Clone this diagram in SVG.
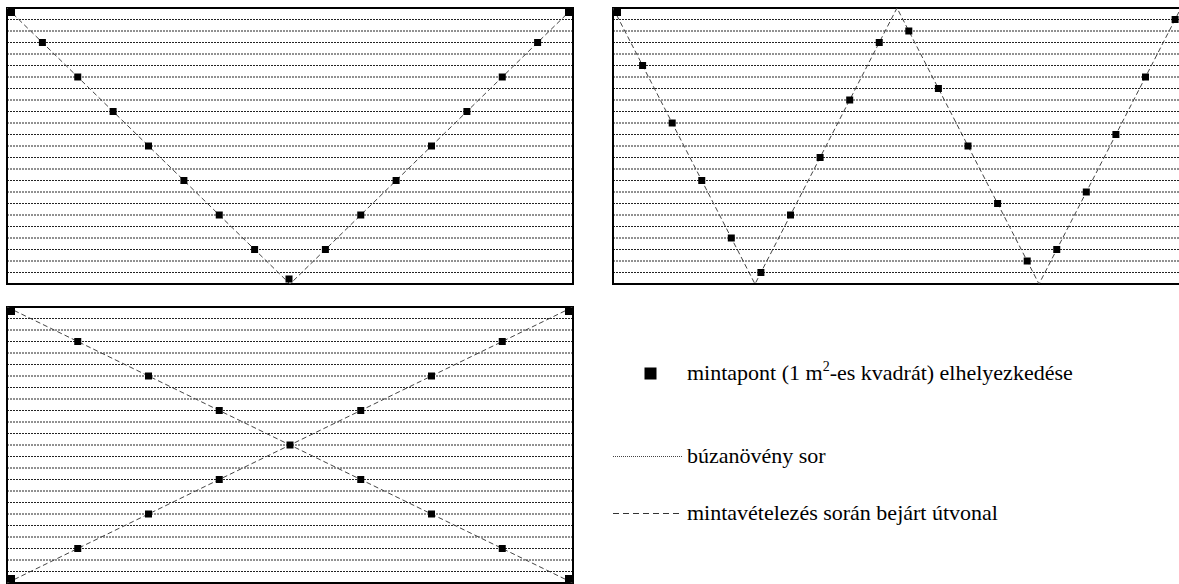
<svg xmlns="http://www.w3.org/2000/svg" width="1179" height="584" viewBox="0 0 1179 584">
<defs>
<style>
.frame{fill:none;stroke:#000;stroke-width:2}
.row{stroke:#222;stroke-width:1;stroke-dasharray:2 1;fill:none}
.route{stroke:#444;stroke-width:1;stroke-dasharray:5 3;fill:none}
.pt{fill:#000}
.lbl{font-family:"Liberation Serif","Times New Roman",serif;font-size:22px;fill:#000}
</style>
<pattern id="rows1" x="0" y="8" width="10" height="11.5" patternUnits="userSpaceOnUse"><line x1="0" y1="0.5" x2="10" y2="0.5"/></pattern>
</defs>
<g id="panel1">
<g class="row">
<path d="M7,19.5H573M7,31H573M7,42.5H573M7,54H573M7,65.5H573M7,77H573M7,88.5H573M7,100H573M7,111.5H573M7,123H573M7,134.5H573M7,146H573M7,157.5H573M7,169H573M7,180.5H573M7,192H573M7,203.5H573M7,215H573M7,226.5H573M7,238H573M7,249.5H573M7,261H573M7,272.5H573"/>
</g>
<rect class="frame" x="7" y="8" width="566" height="276"/>
</g>
<g id="panel2">
<g class="row">
<path d="M613,19.5H1181M613,31H1181M613,42.5H1181M613,54H1181M613,65.5H1181M613,77H1181M613,88.5H1181M613,100H1181M613,111.5H1181M613,123H1181M613,134.5H1181M613,146H1181M613,157.5H1181M613,169H1181M613,180.5H1181M613,192H1181M613,203.5H1181M613,215H1181M613,226.5H1181M613,238H1181M613,249.5H1181M613,261H1181M613,272.5H1181"/>
</g>
<rect class="frame" x="613" y="8" width="568" height="276"/>
</g>
<g id="panel3">
<g class="row">
<path d="M7,318.5H573M7,330H573M7,341.5H573M7,353H573M7,364.5H573M7,376H573M7,387.5H573M7,399H573M7,410.5H573M7,422H573M7,433.5H573M7,445H573M7,456.5H573M7,468H573M7,479.5H573M7,491H573M7,502.5H573M7,514H573M7,525.5H573M7,537H573M7,548.5H573M7,560H573M7,571.5H573"/>
</g>
<rect class="frame" x="7" y="307" width="566" height="276"/>
</g>
<g id="connectors">
<path class="route" d="M7,8L290,284L573,8"/>
<path class="route" d="M613,8L755,284L897,8L1039,284L1181,8"/>
<path class="route" d="M7,307L573,583M7,583L573,307"/>
</g>
<g id="points1" class="pt">
<rect x="8" y="9" width="7" height="7"/>
<rect x="38.9" y="39" width="7" height="7"/>
<rect x="74.25" y="73.5" width="7" height="7"/>
<rect x="109.6" y="108" width="7" height="7"/>
<rect x="145" y="142.5" width="7" height="7"/>
<rect x="180.4" y="177" width="7" height="7"/>
<rect x="215.75" y="211.5" width="7" height="7"/>
<rect x="251.1" y="246" width="7" height="7"/>
<rect x="285.5" y="275.5" width="7" height="7"/>
<rect x="321.9" y="246" width="7" height="7"/>
<rect x="357.25" y="211.5" width="7" height="7"/>
<rect x="392.6" y="177" width="7" height="7"/>
<rect x="428" y="142.5" width="7" height="7"/>
<rect x="463.4" y="108" width="7" height="7"/>
<rect x="498.75" y="73.5" width="7" height="7"/>
<rect x="534.1" y="39" width="7" height="7"/>
<rect x="565" y="9" width="7" height="7"/>
</g>
<g id="points2" class="pt">
<rect x="614" y="9" width="7" height="7"/>
<rect x="639.1" y="62" width="7" height="7"/>
<rect x="668.7" y="119.5" width="7" height="7"/>
<rect x="698.25" y="177" width="7" height="7"/>
<rect x="727.8" y="234.5" width="7" height="7"/>
<rect x="757.4" y="269" width="7" height="7"/>
<rect x="787" y="211.5" width="7" height="7"/>
<rect x="816.6" y="154" width="7" height="7"/>
<rect x="846.2" y="96.5" width="7" height="7"/>
<rect x="875.75" y="39" width="7" height="7"/>
<rect x="905.3" y="27.5" width="7" height="7"/>
<rect x="934.9" y="85" width="7" height="7"/>
<rect x="964.5" y="142.5" width="7" height="7"/>
<rect x="994.1" y="200" width="7" height="7"/>
<rect x="1023.7" y="257.5" width="7" height="7"/>
<rect x="1053.25" y="246" width="7" height="7"/>
<rect x="1082.8" y="188.5" width="7" height="7"/>
<rect x="1112.4" y="131" width="7" height="7"/>
<rect x="1142" y="73.5" width="7" height="7"/>
<rect x="1171.6" y="16" width="7" height="7"/>
</g>
<g id="points3" class="pt">
<rect x="8" y="308" width="7" height="7"/>
<rect x="565" y="308" width="7" height="7"/>
<rect x="8" y="575" width="7" height="7"/>
<rect x="565" y="575" width="7" height="7"/>
<rect x="74.25" y="338" width="7" height="7"/>
<rect x="145" y="372.5" width="7" height="7"/>
<rect x="215.75" y="407" width="7" height="7"/>
<rect x="286.5" y="441.5" width="7" height="7"/>
<rect x="357.25" y="476" width="7" height="7"/>
<rect x="428" y="510.5" width="7" height="7"/>
<rect x="498.75" y="545" width="7" height="7"/>
<rect x="74.25" y="545" width="7" height="7"/>
<rect x="145" y="510.5" width="7" height="7"/>
<rect x="215.75" y="476" width="7" height="7"/>
<rect x="357.25" y="407" width="7" height="7"/>
<rect x="428" y="372.5" width="7" height="7"/>
<rect x="498.75" y="338" width="7" height="7"/>
</g>
<g id="legend-point">
<rect class="pt" x="644.5" y="367.5" width="12" height="12"/>
<text class="lbl" x="687" y="380">mintapont (1 m<tspan font-size="14" dy="-9">2</tspan><tspan dy="9">-es kvadrát) elhelyezkedése</tspan></text>
</g>
<g id="legend-row">
<line x1="613" y1="456.5" x2="683" y2="456.5" stroke="#444" stroke-width="1" stroke-dasharray="1 1"/>
<text class="lbl" x="687" y="463">búzanövény sor</text>
</g>
<g id="legend-route">
<line x1="613" y1="513.5" x2="683" y2="513.5" stroke="#333" stroke-width="1" stroke-dasharray="6 4"/>
<text class="lbl" x="687" y="520">mintavételezés során bejárt útvonal</text>
</g>
</svg>
